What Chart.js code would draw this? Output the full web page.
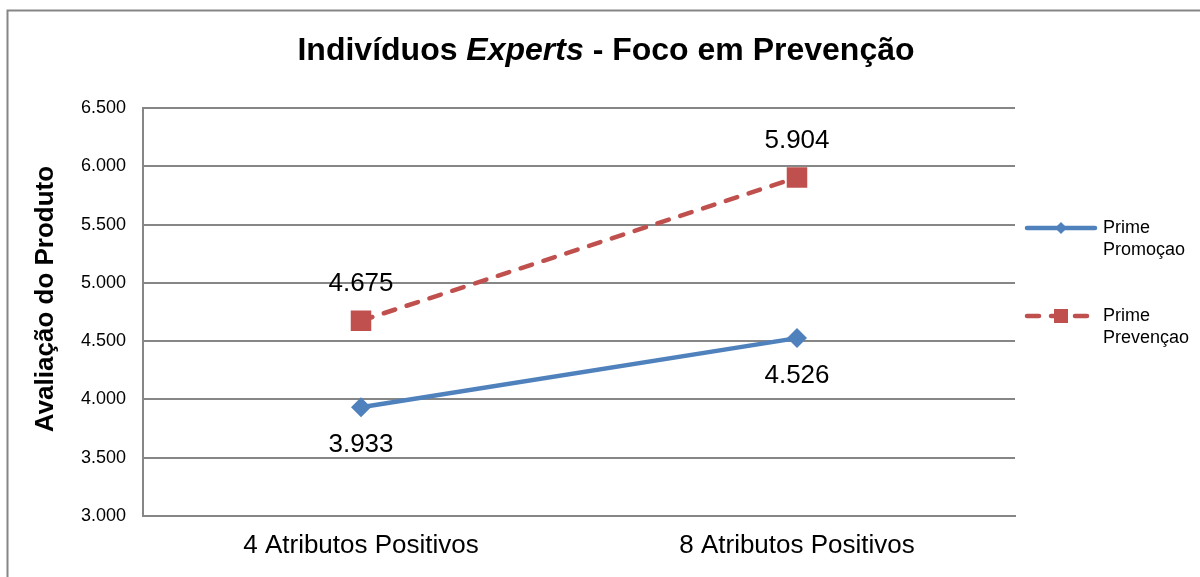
<!DOCTYPE html>
<html><head><meta charset="utf-8">
<script src="https://cdn.jsdelivr.net/npm/chart.js@4"></script>
<style>html,body{margin:0;padding:0;background:#fff}#wrap{width:1200px;height:577px;position:relative}</style>
</head><body><div id="wrap"><canvas id="c" width="1200" height="577"></canvas></div>
<script>
const categories = ['4 Atributos Positivos', '8 Atributos Positivos'];
const primePromocao = [3.933, 4.526];
const primePrevencao = [4.675, 5.904];
const seriesNames = [['Prime', 'Promoçao'], ['Prime', 'Prevençao']];
const yMin = 3.0, yMax = 6.5, yStep = 0.5;
const titleParts = [['Indivíduos ', 'bold'], ['Experts', 'italic bold'], [' - Foco em Prevenção', 'bold']];
const yTitle = 'Avaliação do Produto';

const FONT = '"Liberation Sans", Arial, sans-serif';
const BLUE = '#4F81BD', RED = '#C0504D', GRID = '#868686';

const decor = {
  id: 'decor',
  beforeDraw(chart) {
    const ctx = chart.ctx;
    ctx.save();
    ctx.fillStyle = '#fff';
    ctx.fillRect(0, 0, chart.width, chart.height);
    ctx.strokeStyle = GRID; ctx.lineWidth = 2;
    ctx.strokeRect(7.5, 10.5, 1300, 700);
    ctx.restore();
  },
  afterDraw(chart) {
    const ctx = chart.ctx;
    ctx.save();
    // title
    ctx.fillStyle = '#000';
    ctx.textBaseline = 'middle';
    let total = 0;
    const widths = titleParts.map(([t, s]) => { ctx.font = s + ' 32px ' + FONT; const w = ctx.measureText(t).width; total += w; return w; });
    let x = 606 - total / 2;
    titleParts.forEach(([t, s], i) => { ctx.font = s + ' 32px ' + FONT; ctx.textAlign = 'left'; ctx.fillText(t, x, 51); x += widths[i]; });
    // y title
    ctx.save();
    ctx.translate(46, 299);
    ctx.rotate(-Math.PI / 2);
    ctx.font = 'bold 26px ' + FONT;
    ctx.textAlign = 'center';
    ctx.fillText(yTitle, 0, 0);
    ctx.restore();
    // legend
    const items = [{ y: 228, ds: chart.data.datasets[0] }, { y: 316, ds: chart.data.datasets[1] }];
    items.forEach((it, i) => {
      const ds = it.ds;
      ctx.save();
      ctx.strokeStyle = ds.borderColor; ctx.lineWidth = ds.borderWidth;
      ctx.lineCap = ds.borderCapStyle || 'round';
      ctx.setLineDash(ds.borderDash || []);
      ctx.beginPath(); ctx.moveTo(1027, it.y); ctx.lineTo(1095, it.y); ctx.stroke();
      ctx.restore();
      ctx.fillStyle = ds.backgroundColor;
      ctx.beginPath();
      if (ds.pointStyle === 'rect') { ctx.rect(1061 - 7, it.y - 7, 14, 14); } else { ctx.moveTo(1061 - 6, it.y); ctx.lineTo(1061, it.y - 6); ctx.lineTo(1061 + 6, it.y); ctx.lineTo(1061, it.y + 6); ctx.closePath(); }
      ctx.fill();
      ctx.fillStyle = '#000'; ctx.font = '18px ' + FONT; ctx.textAlign = 'left'; ctx.textBaseline = 'middle';
      seriesNames[i].forEach((t, k) => ctx.fillText(t, 1103, it.y + k * 22));
    });
    ctx.restore();
  },
  afterDatasetsDraw(chart) {
    const ctx = chart.ctx;
    ctx.save();
    ctx.fillStyle = '#000'; ctx.font = '26px ' + FONT; ctx.textAlign = 'center'; ctx.textBaseline = 'middle';
    chart.data.datasets.forEach((ds, di) => {
      const meta = chart.getDatasetMeta(di);
      meta.data.forEach((p, i) => {
        const off = ds.labelPos === 'below' ? 38 : -37;
        ctx.fillText(ds.data[i].toFixed(3), p.x, p.y + off);
      });
    });
    ctx.restore();
  }
};

new Chart(document.getElementById('c'), {
  type: 'line',
  data: {
    labels: categories,
    datasets: [
      { label: seriesNames[0].join(' '), data: primePromocao, borderColor: BLUE, backgroundColor: BLUE, borderWidth: 4.5,
        borderCapStyle: 'round',
        pointStyle: 'rectRot', pointRadius: 10, pointBackgroundColor: BLUE, pointBorderColor: BLUE, pointBorderWidth: 0, labelPos: 'below', tension: 0 },
      { label: seriesNames[1].join(' '), data: primePrevencao, borderColor: RED, backgroundColor: RED, borderWidth: 4.5,
        borderDash: [12, 12], borderCapStyle: 'round',
        pointStyle: 'rect', pointRadius: 14.5, pointBackgroundColor: RED, pointBorderColor: RED, pointBorderWidth: 0, labelPos: 'above', tension: 0 }
    ]
  },
  options: {
    responsive: false, animation: false, devicePixelRatio: 1,
    layout: { padding: { left: 0, top: 108, right: 185, bottom: 0 } },
    plugins: { legend: { display: false }, title: { display: false }, tooltip: { enabled: false } },
    scales: {
      x: {
        offset: true,
        grid: { display: false, drawTicks: false },
        border: { display: true, color: GRID, width: 2 },
        ticks: { color: '#000', font: { family: FONT, size: 26 }, padding: 14 },
        afterFit(s) { s.height = 61; }
      },
      y: {
        min: yMin, max: yMax,
        grid: { color: GRID, lineWidth: 2, drawTicks: false },
        border: { display: true, color: GRID, width: 2 },
        ticks: { stepSize: yStep, color: '#000', font: { family: FONT, size: 18 }, padding: 17, callback: v => v.toFixed(3) },
        afterFit(s) { s.width = 143; }
      }
    }
  },
  plugins: [decor]
});
</script></body></html>
